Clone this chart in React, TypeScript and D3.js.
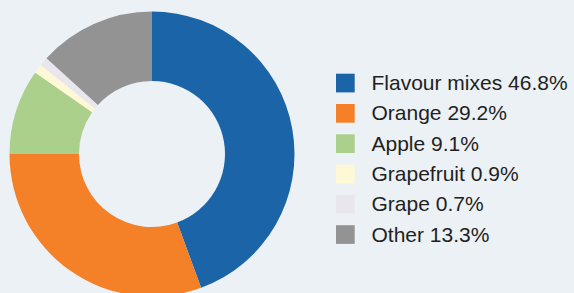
import React, { useEffect, useRef } from "react";
import * as d3 from "d3";

// slice sizes (percent of the ring)
const categories = ["Flavour mixes", "Orange", "Apple", "Grapefruit", "Grape", "Other"];
const sliceValues = [44.4, 30.6, 9.7, 1.03, 1.0, 13.27];
// shares printed in the legend
const legendShares = ["46.8%", "29.2%", "9.1%", "0.9%", "0.7%", "13.3%"];
const colors = ["#1c64a8", "#f48028", "#abd08b", "#fff8d6", "#eae6ee", "#939393"];

const W = 574, H = 293;
const BG = "#ecf1f6";

export default function App() {
  const ref = useRef<SVGSVGElement | null>(null);

  useEffect(() => {
    document.body.style.margin = "0";
    document.body.style.background = BG;

    const svg = d3.select(ref.current);
    svg.selectAll("*").remove();

    svg.append("rect").attr("width", W).attr("height", H).attr("fill", BG);

    const cx = 152, cy = 154;
    const pie = d3.pie<number>().sort(null).startAngle(0).endAngle(2 * Math.PI);
    const arc = d3.arc<d3.PieArcDatum<number>>().innerRadius(73).outerRadius(142.5);

    svg.append("g")
      .attr("transform", `translate(${cx},${cy})`)
      .selectAll("path")
      .data(pie(sliceValues))
      .join("path")
      .attr("d", arc)
      .attr("fill", (d, i) => colors[i]);

    // legend
    const rowY = d3.scaleLinear().domain([0, categories.length - 1]).range([90, 241.5]);
    const leg = svg.append("g");
    const rows = leg.selectAll("g")
      .data(categories)
      .join("g")
      .attr("transform", (d, i) => `translate(0,${rowY(i)})`);

    rows.append("rect")
      .attr("x", 336)
      .attr("y", -16.3)
      .attr("width", 18.7)
      .attr("height", 18.7)
      .attr("fill", (d, i) => colors[i]);

    rows.append("text")
      .attr("x", 371.5)
      .attr("y", 0)
      .style("font-family", "'Liberation Sans', Arial, sans-serif")
      .style("font-size", "21px")
      .attr("fill", "#231f20")
      .text((d, i) => `${d} ${legendShares[i]}`);
  }, []);

  return <svg ref={ref} width={W} height={H} style={{ display: "block" }}></svg>;
}
